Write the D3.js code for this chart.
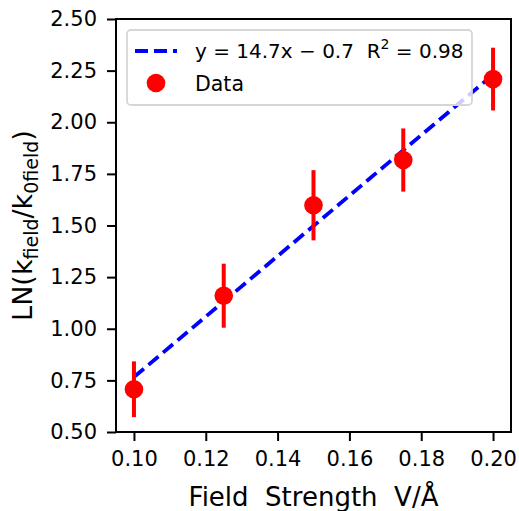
<!DOCTYPE html>
<html>
<head>
<meta charset="utf-8">
<script src="https://cdn.jsdelivr.net/npm/d3@7"></script>
<style>
  body { margin: 0; background: #fff; }
  text { font-family: "DejaVu Sans", sans-serif; fill: #000; }
</style>
</head>
<body>
<svg id="chart" width="519" height="511"></svg>
<script>
// field strength (V/Å) and LN(k_field/k_0field) with error bars
var fieldStrength = [0.100, 0.125, 0.150, 0.175, 0.200];
var lnRatio = [0.707, 1.160, 1.598, 1.817, 2.209];
var lnError = [0.135, 0.155, 0.170, 0.153, 0.152];

var xTicks = [0.10, 0.12, 0.14, 0.16, 0.18, 0.20];
var yTicks = [0.50, 0.75, 1.00, 1.25, 1.50, 1.75, 2.00, 2.25, 2.50];

var fitLabel = "y\u00a0=\u00a014.7x\u00a0\u2212\u00a00.7\u00a0\u00a0R";
var fitLabelR2 = "\u00a0=\u00a00.98";

var svg = d3.select("#chart"),
    MARGINS = { top: 19, right: 8, bottom: 79, left: 116 },
    WIDTH = 519,
    HEIGHT = 511;

var xScale = d3.scaleLinear().domain([0.095, 0.205]).range([MARGINS.left, WIDTH - MARGINS.right]);
var yScale = d3.scaleLinear().domain([0.5, 2.5]).range([HEIGHT - MARGINS.bottom, MARGINS.top]);

var data = fieldStrength.map(function(x, i) {
  return { x: x, y: lnRatio[i], e: lnError[i] };
});

// least squares fit of the data
var mx = d3.mean(fieldStrength), my = d3.mean(lnRatio);
var sxy = d3.sum(data, function(d) { return (d.x - mx) * (d.y - my); });
var sxx = d3.sum(data, function(d) { return (d.x - mx) * (d.x - mx); });
var slope = sxy / sxx, intercept = my - slope * mx;
var fitData = d3.extent(fieldStrength).map(function(x) { return { x: x, y: slope * x + intercept }; });

// axes
var xAxis = d3.axisBottom(xScale).tickValues(xTicks).tickFormat(d3.format(".2f")).tickSizeInner(9).tickSizeOuter(0).tickPadding(10);
var yAxis = d3.axisLeft(yScale).tickValues(yTicks).tickFormat(d3.format(".2f")).tickSizeInner(9).tickSizeOuter(0).tickPadding(10);

var gx = svg.append("g")
  .attr("transform", "translate(0," + (HEIGHT - MARGINS.bottom) + ")")
  .call(xAxis);
var gy = svg.append("g")
  .attr("transform", "translate(" + MARGINS.left + ",0)")
  .call(yAxis);

[gx, gy].forEach(function(g) {
  g.select(".domain").remove();
  g.selectAll(".tick line").attr("stroke", "#000").attr("stroke-width", 2);
  g.selectAll(".tick text").style("font-family", "DejaVu Sans").style("font-size", "21px").attr("fill", "#000");
});

// fit line
var lineGen = d3.line()
  .x(function(d) { return xScale(d.x); })
  .y(function(d) { return yScale(d.y); });

svg.append("path")
  .attr("d", lineGen(fitData))
  .attr("stroke", "#0000ff")
  .attr("stroke-width", 3.8)
  .attr("stroke-dasharray", "13,6")
  .attr("fill", "none");

// error bars and points
svg.selectAll(".err").data(data).enter().append("line")
  .attr("x1", function(d) { return xScale(d.x); })
  .attr("x2", function(d) { return xScale(d.x); })
  .attr("y1", function(d) { return yScale(d.y - d.e); })
  .attr("y2", function(d) { return yScale(d.y + d.e); })
  .attr("stroke", "#ff0000")
  .attr("stroke-width", 4);

svg.selectAll(".pt").data(data).enter().append("circle")
  .attr("cx", function(d) { return xScale(d.x); })
  .attr("cy", function(d) { return yScale(d.y); })
  .attr("r", 9.3)
  .attr("fill", "#ff0000");

// frame
svg.append("rect")
  .attr("x", MARGINS.left)
  .attr("y", MARGINS.top)
  .attr("width", WIDTH - MARGINS.left - MARGINS.right)
  .attr("height", HEIGHT - MARGINS.top - MARGINS.bottom)
  .attr("fill", "none")
  .attr("stroke", "#000")
  .attr("stroke-width", 2);

// axis labels
svg.append("text")
  .attr("x", (MARGINS.left + WIDTH - MARGINS.right) / 2)
  .attr("y", 506)
  .attr("text-anchor", "middle")
  .style("font-size", "26px")
  .text("Field\u00a0\u00a0Strength\u00a0\u00a0V/\u00c5");

var yl = svg.append("text")
  .attr("transform", "translate(32," + ((MARGINS.top + HEIGHT - MARGINS.bottom) / 2) + ") rotate(-90)")
  .attr("text-anchor", "middle")
  .style("font-size", "27px");
yl.append("tspan").text("LN(k");
yl.append("tspan").attr("dy", 6).style("font-size", "19px").text("field");
yl.append("tspan").attr("dy", -6).text("/k");
yl.append("tspan").attr("dy", 6).style("font-size", "19px").text("0field");
yl.append("tspan").attr("dy", -6).text(")");

// legend
var lg = svg.append("g");
lg.append("rect")
  .attr("x", 127).attr("y", 30)
  .attr("width", 345).attr("height", 75)
  .attr("rx", 4)
  .attr("fill", "rgba(255,255,255,0.8)")
  .attr("stroke", "#d6d6d6")
  .attr("stroke-width", 1.8);

lg.append("line")
  .attr("x1", 135).attr("x2", 177)
  .attr("y1", 51).attr("y2", 51)
  .attr("stroke", "#0000ff")
  .attr("stroke-width", 3.8)
  .attr("stroke-dasharray", "13,6");

var lt = lg.append("text").attr("x", 195).attr("y", 58).style("font-size", "20px");
lt.append("tspan").text(fitLabel);
lt.append("tspan").attr("dy", -9).style("font-size", "14px").text("2");
lt.append("tspan").attr("dy", 9).text(fitLabelR2);

lg.append("line")
  .attr("x1", 156).attr("x2", 156)
  .attr("y1", 83 - 9).attr("y2", 83 + 9)
  .attr("stroke", "#ff0000")
  .attr("stroke-width", 4);
lg.append("circle")
  .attr("cx", 156).attr("cy", 83)
  .attr("r", 9.3)
  .attr("fill", "#ff0000");
lg.append("text").attr("x", 195).attr("y", 90.5).style("font-size", "20.5px").text("Data");
</script>
</body>
</html>
